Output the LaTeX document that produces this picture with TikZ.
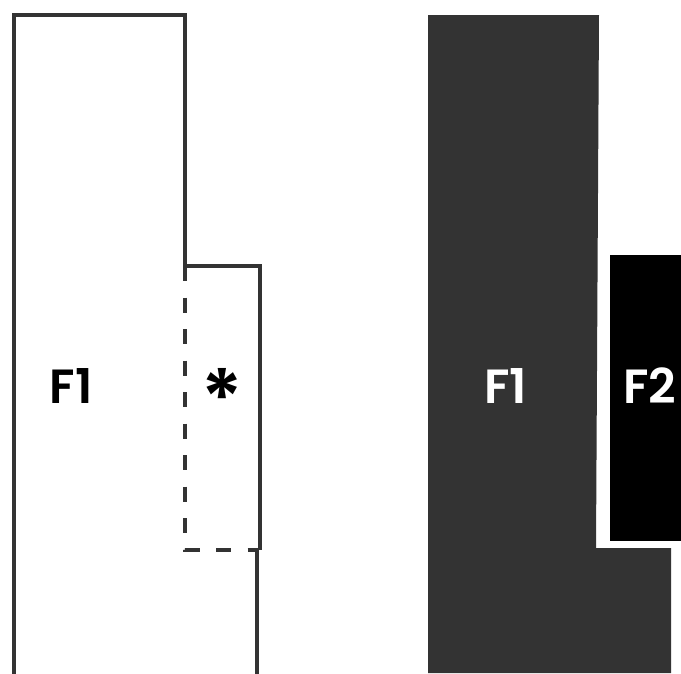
\documentclass[tikz,border=0pt]{standalone}
\usepackage{fontspec}
\setmainfont{Poppins}[BoldFont={Poppins SemiBold}]
\definecolor{dk}{HTML}{333333}
\begin{document}
\begin{tikzpicture}[x=1pt,y=-1pt,
  outline/.style={draw=dk,line width=4.2pt},
  dashline/.style={draw=dk,line width=4.5pt,dash pattern=on 15pt off 16.5pt},
  lbl/.style={font=\fontsize{48}{48}\selectfont\bfseries,inner sep=0pt,anchor=center},
  star/.style={font=\fontsize{80}{80}\selectfont\bfseries,inner sep=0pt,anchor=center}]
\useasboundingbox (0,0) rectangle (681,673);
% left outline
\draw[outline,line join=miter] (14,680) -- (14,15) -- (185,15) -- (185,266) -- (260,266) -- (260,550);
\draw[outline] (257,548) -- (257,680);
\draw[dashline] (185,266) -- (185,550) -- (259,550);
% right filled
\fill[dk] (428,15) -- (599,15) -- (596,548) -- (671,548) -- (671,673) -- (428,673) -- cycle;
\fill[black] (610,255) rectangle (681,541);
% labels
\node[lbl,text=black] (lf1) at (71,386) {F1};
\node[star,text=black] (ast) at (222,398) {*};
\node[lbl,text=white] (rf1) at (505.5,386) {F1};
\node[lbl,text=white] (rf2) at (650,386) {F2};
\end{tikzpicture}
\end{document}
